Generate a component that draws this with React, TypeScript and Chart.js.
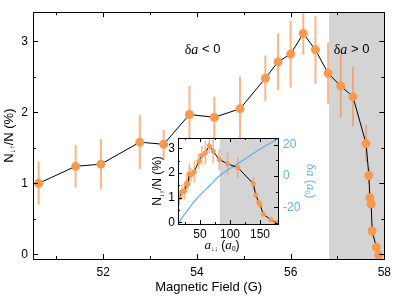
import React, { useEffect, useRef } from 'react';
import { Chart, registerables } from 'chart.js';
Chart.register(...registerables);

// ---------- data ----------
const FIELD_G = [50.62, 51.41, 51.95, 52.78, 53.29, 53.84, 54.37, 54.92, 55.46, 55.73, 56.0, 56.27, 56.53, 56.8, 57.07, 57.33, 57.61, 57.67, 57.69, 57.72, 57.74, 57.83, 57.88];
const RATIO = [1.0, 1.24, 1.27, 1.58, 1.55, 1.97, 1.93, 2.05, 2.48, 2.71, 2.82, 3.11, 2.88, 2.55, 2.37, 2.22, 1.56, 1.11, 0.8, 0.71, 0.33, 0.1, -0.01];
const RATIO_ERR = [0.3, 0.3, 0.35, 0.38, 0.2, 0.4, 0.29, 0.45, 0.32, 0.4, 0.47, 0.3, 0.48, 0.43, 0.45, 0.42, 0.26, 0.12, 0.1, 0.08, 0.06, 0.05, 0.04];
const A_DD = [15.5, 20, 24, 28, 30, 32, 35, 40.5, 48, 53, 59, 65.5, 72, 82, 96, 113, 139, 143, 148, 150, 155.5, 168, 176.7];
const DA_A = [14, 20, 26.7, 35, 43.3, 55, 65.5, 82, 104.5, 132, 154.5, 176.7, 180];
const DA_VAL = [-30.5, -26.5, -23.2, -19.0, -15.0, -10.3, -6.4, 0, 5.8, 12.6, 18.1, 23, 23.8];
const SHADE_FROM_G = 56.82;
const SHADE_FROM_A = 83;

const X_MAJOR = [52, 54, 56, 58];
const X_MINOR = [51, 53, 55, 57];
const Y_MAJOR = [0, 1, 2, 3];
const Y_MINOR = [0.5, 1.5, 2.5];
const IX_MAJOR = [50, 100, 150];
const IX_MINOR = [25, 75, 125, 175];
const IY_MAJOR = [0, 1, 2, 3];
const IY_MINOR = [0.5, 1.5, 2.5];
const IY2_MAJOR = [-20, 0, 20];
const IY2_MINOR = [-30, -10, 10];

// ---------- styles ----------
const SANS = '"Liberation Sans", Arial, sans-serif';
const SERIF = '"Liberation Serif", "DejaVu Serif", serif';
const ORANGE = '#F9994D';
const ERR = 'rgba(248,150,80,0.7)';
const SHADE = '#D4D4D4';
const BLUE = '#63ADF4';

type Part = { t: string; font: string; dy?: number; color?: string };
function drawRich(ctx: CanvasRenderingContext2D, parts: Part[], cx: number, cy: number, rot: number, color: string) {
  ctx.save();
  ctx.translate(cx, cy);
  ctx.rotate(rot);
  ctx.textBaseline = 'middle';
  ctx.textAlign = 'left';
  let w = 0;
  for (const p of parts) { ctx.font = p.font; w += ctx.measureText(p.t).width; }
  let x = -w / 2;
  for (const p of parts) {
    ctx.font = p.font;
    ctx.fillStyle = p.color || color;
    ctx.fillText(p.t, x, p.dy || 0);
    x += ctx.measureText(p.t).width;
  }
  ctx.restore();
}

function ticks(ctx: CanvasRenderingContext2D, a: any, scale: any, vals: number[], len: number, side: string) {
  ctx.beginPath();
  for (const v of vals) {
    const p = Math.round(scale.getPixelForValue(v)) + 0.5;
    if (side === 'bottom') { ctx.moveTo(p, a.bottom); ctx.lineTo(p, a.bottom - len); }
    if (side === 'top') { ctx.moveTo(p, a.top); ctx.lineTo(p, a.top + len); }
    if (side === 'left') { ctx.moveTo(a.left, p); ctx.lineTo(a.left + len, p); }
    if (side === 'right') { ctx.moveTo(a.right, p); ctx.lineTo(a.right - len, p); }
  }
  ctx.stroke();
}

function frame(ctx: CanvasRenderingContext2D, a: any) {
  ctx.strokeRect(Math.round(a.left) + 0.5, Math.round(a.top) + 0.5, Math.round(a.right - a.left), Math.round(a.bottom - a.top));
}

function errorBars(ctx: CanvasRenderingContext2D, xs: any, ys: any, xv: number[], lw: number) {
  ctx.strokeStyle = ERR;
  ctx.lineWidth = lw;
  xv.forEach((g, i) => {
    const px = xs.getPixelForValue(g);
    ctx.beginPath();
    ctx.moveTo(px, ys.getPixelForValue(RATIO[i] - RATIO_ERR[i]));
    ctx.lineTo(px, ys.getPixelForValue(RATIO[i] + RATIO_ERR[i]));
    ctx.stroke();
  });
}

const mainPlugin = {
  id: 'mainDecor',
  beforeDatasetsDraw(chart: any) {
    const { ctx, chartArea: a, scales } = chart;
    const x = scales.x, y = scales.y;
    ctx.save();
    ctx.beginPath(); ctx.rect(a.left, a.top, a.right - a.left, a.bottom - a.top); ctx.clip();
    const xs = x.getPixelForValue(SHADE_FROM_G);
    ctx.fillStyle = SHADE;
    ctx.fillRect(xs, a.top, a.right - xs, a.bottom - a.top);
    errorBars(ctx, x, y, FIELD_G, 2);
    ctx.restore();
  },
  afterDraw(chart: any) {
    const { ctx, chartArea: a, scales } = chart;
    const x = scales.x, y = scales.y;
    ctx.save();
    ctx.strokeStyle = '#000'; ctx.lineWidth = 1;
    frame(ctx, a);
    ticks(ctx, a, x, X_MAJOR, 5, 'bottom'); ticks(ctx, a, x, X_MINOR, 3, 'bottom');
    ticks(ctx, a, x, X_MAJOR, 5, 'top'); ticks(ctx, a, x, X_MINOR, 3, 'top');
    ticks(ctx, a, y, Y_MAJOR, 5, 'left'); ticks(ctx, a, y, Y_MINOR, 3, 'left');
    ticks(ctx, a, y, Y_MAJOR, 5, 'right'); ticks(ctx, a, y, Y_MINOR, 3, 'right');
    const f13 = `13px ${SANS}`;
    drawRich(ctx, [{ t: 'Magnetic Field (G)', font: f13 }], (a.left + a.right) / 2, 287, 0, '#000');
    drawRich(ctx, [
      { t: 'N', font: f13 },
      { t: '↓↑', font: `8px ${SANS}`, dy: 4 },
      { t: '/N (%)', font: f13 },
    ], 9, (a.top + a.bottom) / 2, -Math.PI / 2, '#000');
    const lbl = (sign: string, gx: number) => drawRich(ctx, [
      { t: 'δ', font: `14px ${SERIF}` },
      { t: 'a', font: `italic 14px ${SERIF}` },
      { t: ' ' + sign + ' 0', font: `13px ${SANS}` },
    ], x.getPixelForValue(gx), y.getPixelForValue(2.88), 0, '#000');
    lbl('<', 54.12);
    lbl('>', 57.3);
    ctx.restore();
  },
};

const insetPlugin = {
  id: 'insetDecor',
  beforeDatasetsDraw(chart: any) {
    const { ctx, chartArea: a, scales } = chart;
    const x = scales.x, y = scales.y;
    ctx.save();
    ctx.beginPath(); ctx.rect(a.left, a.top, a.right - a.left, a.bottom - a.top); ctx.clip();
    ctx.fillStyle = '#fff';
    ctx.fillRect(a.left, a.top, a.right - a.left, a.bottom - a.top);
    const xs = x.getPixelForValue(SHADE_FROM_A);
    ctx.fillStyle = SHADE;
    ctx.fillRect(xs, a.top, a.right - xs, a.bottom - a.top);
    errorBars(ctx, x, y, A_DD, 1.5);
    ctx.restore();
  },
  afterDraw(chart: any) {
    const { ctx, chartArea: a, scales } = chart;
    const x = scales.x, y = scales.y, y2 = scales.y2;
    ctx.save();
    ctx.strokeStyle = '#000'; ctx.lineWidth = 1;
    frame(ctx, a);
    ticks(ctx, a, x, IX_MAJOR, 4, 'bottom'); ticks(ctx, a, x, IX_MINOR, 2, 'bottom');
    ticks(ctx, a, x, IX_MAJOR, 4, 'top'); ticks(ctx, a, x, IX_MINOR, 2, 'top');
    ticks(ctx, a, y, IY_MAJOR, 4, 'left'); ticks(ctx, a, y, IY_MINOR, 2, 'left');
    ticks(ctx, a, y2, IY2_MAJOR, 4, 'right'); ticks(ctx, a, y2, IY2_MINOR, 2, 'right');
    const f12 = `12px ${SANS}`;
    drawRich(ctx, [
      { t: 'N', font: f12 },
      { t: '↓↑', font: `7px ${SANS}`, dy: 4 },
      { t: '/N (%)', font: f12 },
    ], a.left - 20, (a.top + a.bottom) / 2, -Math.PI / 2, '#000');
    drawRich(ctx, [
      { t: 'a', font: `italic 13px ${SERIF}` },
      { t: '↓↓', font: `7px ${SANS}`, dy: 3 },
      { t: ' (', font: f12 },
      { t: 'a', font: `italic 13px ${SERIF}` },
      { t: '0', font: `7px ${SANS}`, dy: 3 },
      { t: ')', font: f12 },
    ], (a.left + a.right) / 2 - 6, a.bottom + 22, 0, '#000');
    drawRich(ctx, [
      { t: 'δ', font: `13px ${SERIF}` },
      { t: 'a', font: `italic 13px ${SERIF}` },
      { t: ' (', font: f12 },
      { t: 'a', font: `italic 13px ${SERIF}` },
      { t: '0', font: `7px ${SANS}`, dy: 3 },
      { t: ')', font: f12 },
    ], a.right + 32, (a.top + a.bottom) / 2, Math.PI / 2, BLUE);
    ctx.restore();
  },
};

export default function App() {
  const mainRef = useRef<HTMLCanvasElement>(null);
  const insetRef = useRef<HTMLCanvasElement>(null);

  useEffect(() => {
    const tickFont = { family: SANS, size: 12 };
    const main = new Chart(mainRef.current as HTMLCanvasElement, {
      type: 'line',
      data: {
        datasets: [{
          data: FIELD_G.map((g, i) => ({ x: g, y: RATIO[i] })),
          borderColor: '#000',
          borderWidth: 1,
          pointRadius: 4.5,
          pointBackgroundColor: ORANGE,
          pointBorderWidth: 0,
          tension: 0,
        }],
      },
      options: {
        responsive: false,
        animation: false,
        events: [],
        layout: { padding: { top: 3, right: 12, left: 0, bottom: 0 } },
        plugins: { legend: { display: false }, tooltip: { enabled: false } },
        scales: {
          x: {
            type: 'linear', min: 50.5, max: 58,
            grid: { display: false, drawTicks: false }, border: { display: false },
            ticks: { font: tickFont, color: '#000', padding: 6, maxRotation: 0 },
            afterBuildTicks: (s: any) => { s.ticks = X_MAJOR.map(v => ({ value: v })); },
            afterFit: (s: any) => { s.height = 37; },
          },
          y: {
            type: 'linear', min: -0.065, max: 3.41,
            grid: { display: false, drawTicks: false }, border: { display: false },
            ticks: { font: tickFont, color: '#000', padding: 5 },
            afterBuildTicks: (s: any) => { s.ticks = Y_MAJOR.map(v => ({ value: v })); },
            afterFit: (s: any) => { s.width = 33; },
          },
        },
      } as any,
      plugins: [mainPlugin],
    });

    const inset = new Chart(insetRef.current as HTMLCanvasElement, {
      type: 'line',
      data: {
        datasets: [
          {
            data: A_DD.map((a, i) => ({ x: a, y: RATIO[i] })),
            borderColor: '#000',
            borderWidth: 1,
            pointRadius: 2.5,
            pointBackgroundColor: ORANGE,
            pointBorderWidth: 0,
            tension: 0,
            yAxisID: 'y',
          },
          {
            data: DA_A.map((a, i) => ({ x: a, y: DA_VAL[i] })),
            borderColor: BLUE,
            borderWidth: 1.2,
            pointRadius: 0,
            tension: 0.4,
            yAxisID: 'y2',
          },
        ],
      },
      options: {
        responsive: false,
        animation: false,
        events: [],
        layout: { padding: { top: 138, right: 79, left: 150, bottom: 42 } },
        plugins: { legend: { display: false }, tooltip: { enabled: false } },
        scales: {
          x: {
            type: 'linear', min: 13.3, max: 180,
            grid: { display: false, drawTicks: false }, border: { display: false },
            ticks: { font: tickFont, color: '#000', padding: 3, maxRotation: 0 },
            afterBuildTicks: (s: any) => { s.ticks = IX_MAJOR.map(v => ({ value: v })); },
            afterFit: (s: any) => { s.height = 30; },
          },
          y: {
            type: 'linear', min: -0.07, max: 3.42,
            grid: { display: false, drawTicks: false }, border: { display: false },
            ticks: { font: tickFont, color: '#000', padding: 3 },
            afterBuildTicks: (s: any) => { s.ticks = IY_MAJOR.map(v => ({ value: v })); },
            afterFit: (s: any) => { s.width = 28; },
          },
          y2: {
            type: 'linear', position: 'right', min: -30.6, max: 24.2,
            grid: { display: false, drawTicks: false }, border: { display: false },
            ticks: { font: tickFont, color: BLUE, padding: 5 },
            afterBuildTicks: (s: any) => { s.ticks = IY2_MAJOR.map(v => ({ value: v })); },
            afterFit: (s: any) => { s.width = 40; },
          },
        },
      } as any,
      plugins: [insetPlugin],
    });

    return () => { main.destroy(); inset.destroy(); };
  }, []);

  return (
    <div style={{ position: 'fixed', left: 0, top: 0, width: 397, height: 296, background: '#fff' }}>
      <canvas ref={mainRef} width={397} height={296} style={{ position: 'absolute', left: 0, top: 0 }} />
      <canvas ref={insetRef} width={397} height={296} style={{ position: 'absolute', left: 0, top: 0 }} />
    </div>
  );
}
